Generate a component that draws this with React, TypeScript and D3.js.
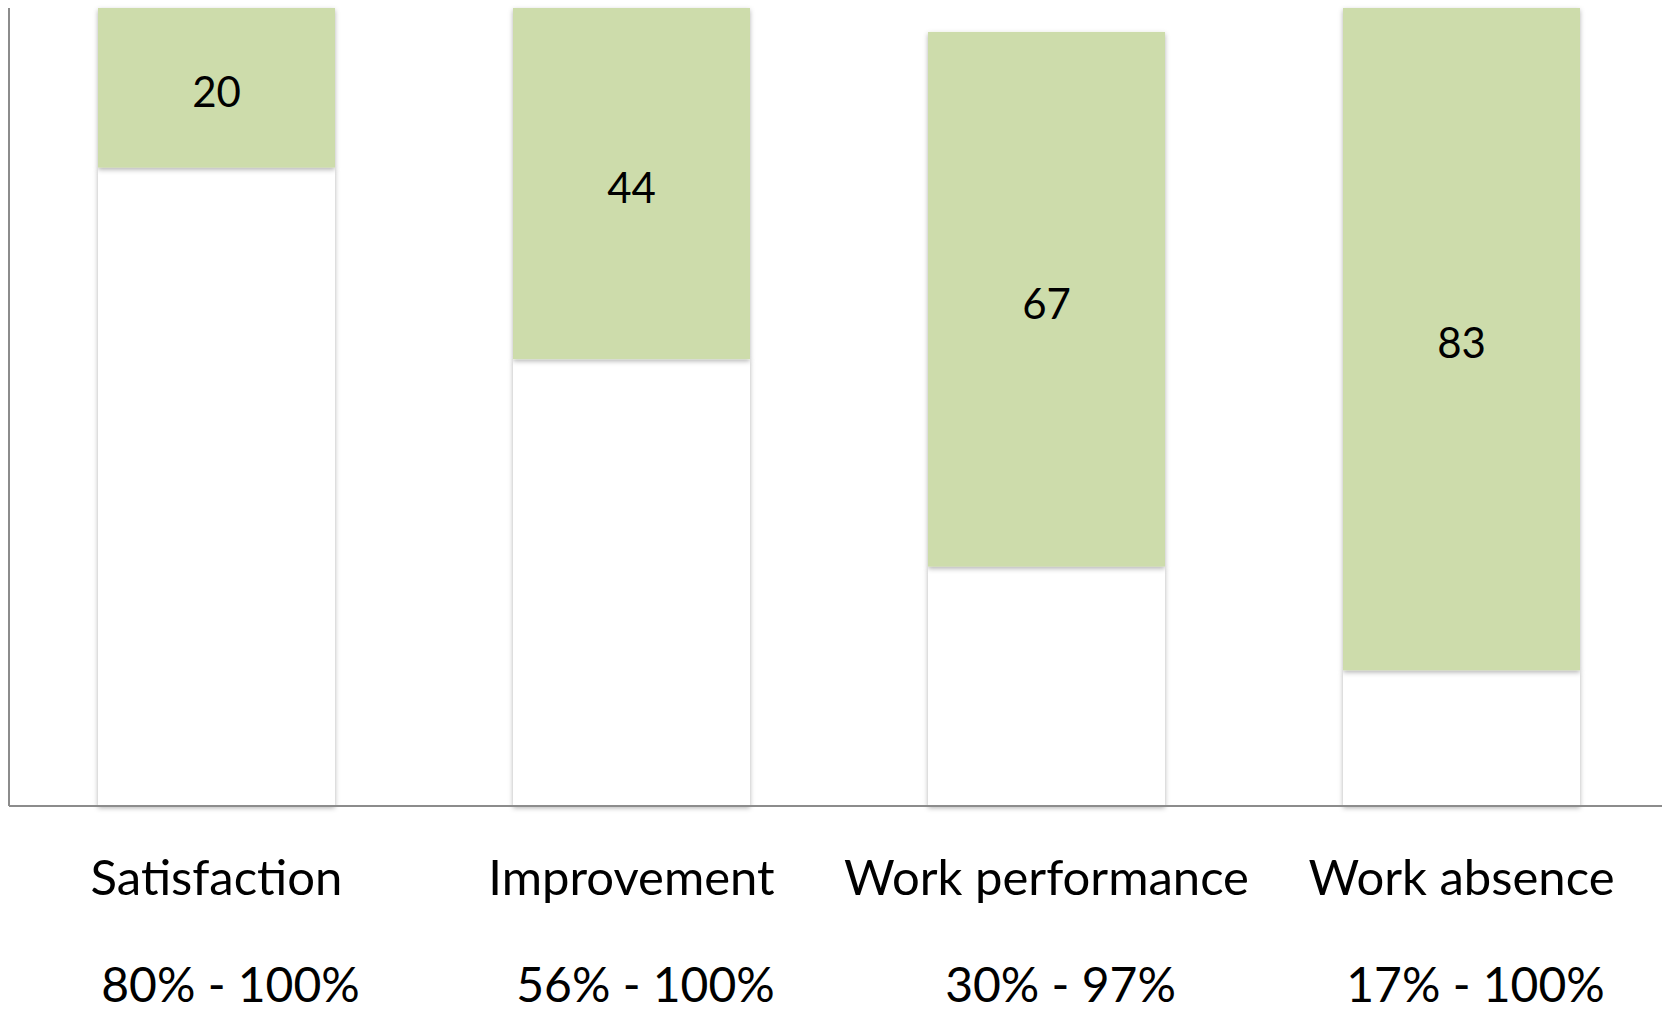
import { useEffect, useRef } from 'react';
import * as d3 from 'd3';

const categories = ['Satisfaction', 'Improvement', 'Work performance', 'Work absence'];
const lowValues = [80, 56, 30, 17];
const highValues = [100, 100, 97, 100];
const rangeLabels = ['80% - 100%', '56% - 100%', '30% - 97%', '17% - 100%'];

const WIDTH = 1662;
const HEIGHT = 1013;

const App = () => {
  const chartRef = useRef<SVGSVGElement | null>(null);

  useEffect(() => {
    document.body.style.margin = '0';
    if (!chartRef.current) return;

    d3.select(chartRef.current).selectAll('*').remove();

    // plot runs a bit past the right edge, like the original
    const margin = { top: 8, right: -7, bottom: 207, left: 9 };
    const innerWidth = WIDTH - margin.left - margin.right;
    const innerHeight = HEIGHT - margin.top - margin.bottom;

    const root = d3.select(chartRef.current);

    // shadow filter
    const defs = root.append('defs');
    const shadow = defs.append('filter')
      .attr('id', 'barShadow')
      .attr('x', '-10%').attr('y', '-10%')
      .attr('width', '120%').attr('height', '120%');
    shadow.append('feDropShadow')
      .attr('dx', 0).attr('dy', 2)
      .attr('stdDeviation', 2.5)
      .attr('flood-color', '#000')
      .attr('flood-opacity', 0.3);

    const svg = root.append('g')
      .attr('transform', `translate(${margin.left}, ${margin.top})`);

    const xScale = d3.scaleBand()
      .domain(categories)
      .range([0, innerWidth])
      .paddingInner(0.429)
      .paddingOuter(0.2145);

    const yScale = d3.scaleLinear()
      .domain([0, 100])
      .range([innerHeight, 0]);

    const rows = categories.map((c, i) => ({
      name: c,
      low: lowValues[i],
      high: highValues[i],
      range: rangeLabels[i]
    }));

    // white base bars
    svg.selectAll('.base')
      .data(rows)
      .enter()
      .append('rect')
      .attr('class', 'base')
      .attr('x', d => xScale(d.name) as number)
      .attr('y', d => yScale(d.low))
      .attr('width', xScale.bandwidth())
      .attr('height', d => innerHeight - yScale(d.low))
      .attr('fill', '#ffffff')
      .attr('filter', 'url(#barShadow)');

    // green range bars
    svg.selectAll('.range')
      .data(rows)
      .enter()
      .append('rect')
      .attr('class', 'range')
      .attr('x', d => xScale(d.name) as number)
      .attr('y', d => yScale(d.high))
      .attr('width', xScale.bandwidth())
      .attr('height', d => yScale(d.low) - yScale(d.high))
      .attr('fill', '#cddcab')
      .attr('filter', 'url(#barShadow)');

    // value labels (range width)
    svg.selectAll('.val')
      .data(rows)
      .enter()
      .append('text')
      .attr('x', d => (xScale(d.name) as number) + xScale.bandwidth() / 2)
      .attr('y', d => (yScale(d.low) + yScale(d.high)) / 2)
      .attr('dy', '0.46em')
      .attr('text-anchor', 'middle')
      .style('font-family', 'Lato, sans-serif')
      .style('font-size', '42px')
      .style('fill', '#000')
      .text(d => d.high - d.low);

    // axes lines
    svg.append('line')
      .attr('x1', 0).attr('x2', 0)
      .attr('y1', 0).attr('y2', innerHeight)
      .attr('stroke', '#8c8c8c')
      .attr('stroke-width', 2);
    svg.append('line')
      .attr('x1', 0).attr('x2', innerWidth)
      .attr('y1', innerHeight).attr('y2', innerHeight)
      .attr('stroke', '#8c8c8c')
      .attr('stroke-width', 2);

    // category labels
    svg.selectAll('.cat')
      .data(rows)
      .enter()
      .append('text')
      .attr('x', d => (xScale(d.name) as number) + xScale.bandwidth() / 2)
      .attr('y', innerHeight + 89)
      .attr('text-anchor', 'middle')
      .style('font-family', 'Lato, sans-serif')
      .style('font-size', '49px')
      .style('fill', '#000')
      .text(d => d.name);

    // range text
    svg.selectAll('.rng')
      .data(rows)
      .enter()
      .append('text')
      .attr('x', d => (xScale(d.name) as number) + xScale.bandwidth() / 2 + 14)
      .attr('y', innerHeight + 196)
      .attr('text-anchor', 'middle')
      .style('font-family', 'Lato, sans-serif')
      .style('font-size', '48px')
      .style('fill', '#000')
      .text(d => d.range);
  }, []);

  return (
    <svg ref={chartRef} width={WIDTH} height={HEIGHT} style={{ display: 'block', background: '#fff' }}></svg>
  );
};

export default App;
